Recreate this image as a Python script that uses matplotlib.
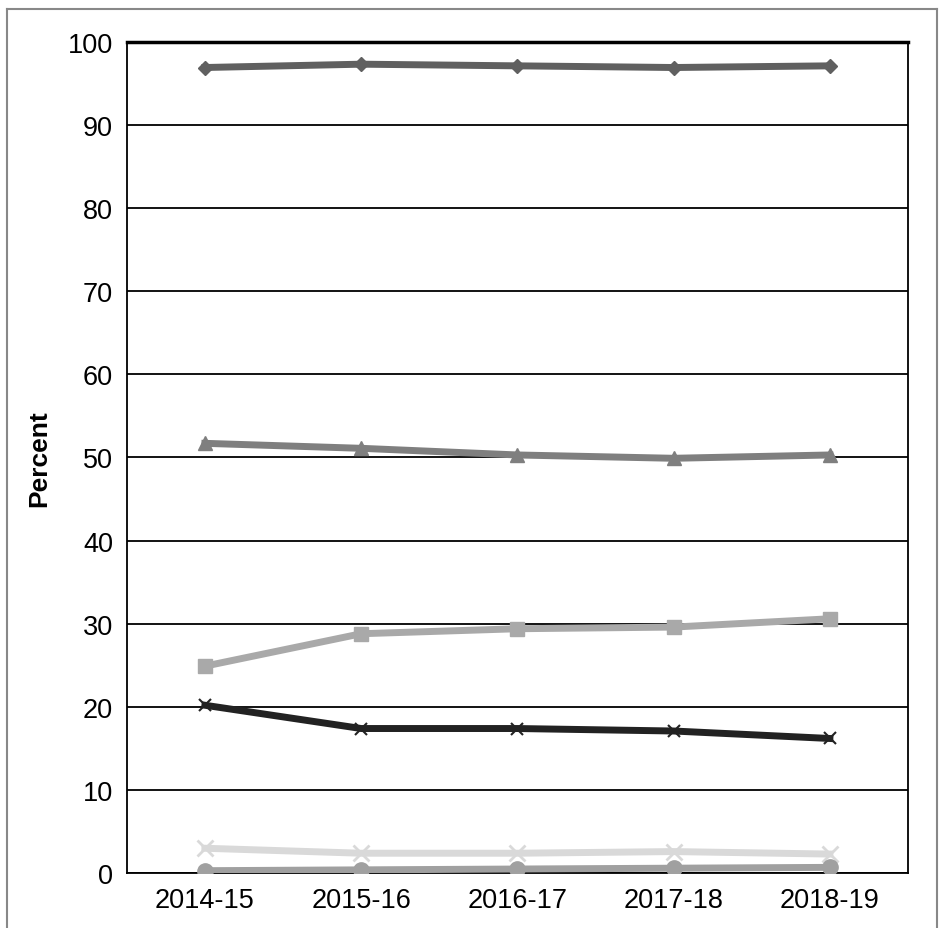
import matplotlib
matplotlib.use("Agg")
import matplotlib.pyplot as plt
from matplotlib.lines import Line2D

years = ["2014-15", "2015-16", "2016-17", "2017-18", "2018-19"]
s_diamond = [96.9, 97.3, 97.1, 96.9, 97.1]
s_triangle = [51.7, 51.1, 50.3, 49.9, 50.3]
s_square = [24.9, 28.8, 29.4, 29.6, 30.6]
s_xdark = [20.2, 17.4, 17.4, 17.1, 16.2]
s_xlight = [3.0, 2.4, 2.4, 2.6, 2.3]
s_circle = [0.3, 0.4, 0.5, 0.6, 0.7]

plt.rcParams['font.family'] = ['Liberation Sans', 'DejaVu Sans']
fig = plt.figure(figsize=(9.39, 9.29), dpi=100)
ax = fig.add_axes([0.135, 0.059, 0.832, 0.895])
x = range(len(years))
ax.plot(x, s_diamond, color="#606060", lw=5, marker="D", ms=7, zorder=3)
ax.plot(x, s_triangle, color="#7f7f7f", lw=5, marker="^", ms=10, zorder=3)
ax.plot(x, s_square, color="#a9a9a9", lw=5, marker="s", ms=10, zorder=3)
ax.plot(x, s_xdark, color="#222222", lw=5, marker="x", ms=9, mew=1.5, zorder=3)
ax.plot(x, s_xlight, color="#d9d9d9", lw=5, marker="x", ms=11, mew=2, zorder=3)
ax.plot(x, s_circle, color="#a0a0a0", lw=5, marker="o", ms=11, zorder=3)
ax.set_xlim(-0.5, 4.5)
ax.set_ylim(0, 100)
ax.set_yticks(range(0, 101, 10))
ax.set_xticks(list(x))
ax.set_xticklabels(years)
ax.yaxis.grid(True, color="black", lw=1.3)
ax.set_axisbelow(True)
for sp in ax.spines.values():
    sp.set_linewidth(1.3)
ax.spines['top'].set_linewidth(2.5)
ax.tick_params(length=0, labelsize=19.5, pad=10)
ax.set_ylabel("Percent", fontsize=19, fontweight="bold", labelpad=12)
fl, ft, fr = 0.0075, 0.989, 0.998
for xs, ys in [([fl, fl], [0, ft]), ([fl, fr], [ft, ft]), ([fr, fr], [ft, 0])]:
    fig.add_artist(Line2D(xs, ys, transform=fig.transFigure, color="#888888", lw=1.5))
fig.savefig("out.png")
